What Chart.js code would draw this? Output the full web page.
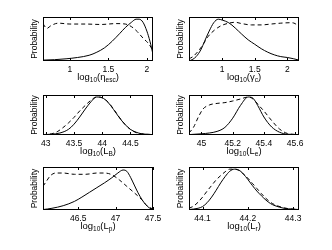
<!DOCTYPE html>
<html>
<head>
<meta charset="utf-8">
<script src="https://cdn.jsdelivr.net/npm/chart.js@4.4.1/dist/chart.umd.min.js"></script>
<style>
  html, body { margin: 0; padding: 0; background: #fff; }
  #wrap { position: relative; width: 332px; height: 250px; }
  canvas { position: absolute; }
</style>
</head>
<body>
<div id="wrap"></div>
<script>
// log10(eta_esc)
const etaTicks = [1, 1.5, 2];
const etaX = [0.65, 0.8, 0.95, 1.1, 1.25, 1.35, 1.45, 1.55, 1.65, 1.72, 1.8, 1.86, 1.9, 1.95, 2.0, 2.04, 2.08];
const etaSolid = [0.02, 0.03, 0.05, 0.08, 0.13, 0.2, 0.3, 0.45, 0.63, 0.76, 0.88, 0.95, 0.95, 0.88, 0.68, 0.45, 0.15];
const etaDashX = [0.65, 0.7, 0.75, 0.85, 1.0, 1.2, 1.4, 1.6, 1.72, 1.8, 1.88, 1.95, 2.02, 2.08];
const etaDash = [0.85, 0.74, 0.8, 0.86, 0.84, 0.84, 0.83, 0.85, 0.84, 0.78, 0.66, 0.52, 0.4, 0.24];

// log10(gamma_c)
const gamTicks = [1, 1.5, 2];
const gamX = [0.49, 0.55, 0.6, 0.67, 0.73, 0.8, 0.87, 0.94, 1.0, 1.1, 1.2, 1.3, 1.4, 1.5, 1.6, 1.7, 1.8, 1.9, 2.0, 2.1, 2.18];
const gamSolid = [0.0, 0.04, 0.1, 0.25, 0.45, 0.68, 0.87, 0.95, 0.93, 0.87, 0.75, 0.61, 0.48, 0.38, 0.28, 0.2, 0.14, 0.1, 0.08, 0.05, 0.02];
const gamDashX = [0.49, 0.55, 0.63, 0.7, 0.78, 0.88, 0.98, 1.1, 1.2, 1.3, 1.45, 1.6, 1.75, 1.9, 2.05, 2.12, 2.18];
const gamDash = [0.05, 0.1, 0.22, 0.36, 0.55, 0.7, 0.8, 0.86, 0.88, 0.85, 0.82, 0.82, 0.84, 0.86, 0.87, 0.85, 0.77];

// log10(L_B)
const lbTicks = [43, 43.5, 44, 44.5];
const lbX = [42.95, 43.1, 43.25, 43.4, 43.5, 43.6, 43.7, 43.8, 43.9, 44.0, 44.1, 44.2, 44.3, 44.4, 44.5, 44.6, 44.7, 44.9];
const lbSolid = [0.01, 0.02, 0.05, 0.14, 0.27, 0.45, 0.65, 0.83, 0.95, 0.93, 0.82, 0.64, 0.44, 0.27, 0.14, 0.07, 0.03, 0.01];
const lbDashX = [42.95, 43.1, 43.2, 43.3, 43.4, 43.5, 43.6, 43.7, 43.8, 43.9, 44.0, 44.1, 44.2, 44.3, 44.4, 44.5, 44.6, 44.7, 44.9];
const lbDash = [0.01, 0.03, 0.08, 0.18, 0.3, 0.44, 0.6, 0.74, 0.87, 0.95, 0.93, 0.83, 0.65, 0.45, 0.27, 0.14, 0.06, 0.03, 0.01];

// log10(L_e)
const leTicks = [45, 45.2, 45.4, 45.6];
const leX = [44.92, 45.0, 45.05, 45.1, 45.15, 45.2, 45.25, 45.3, 45.33, 45.36, 45.4, 45.45, 45.5, 45.55, 45.625];
const leSolid = [0.01, 0.03, 0.05, 0.09, 0.19, 0.42, 0.74, 0.95, 0.92, 0.74, 0.45, 0.2, 0.07, 0.02, 0.01];
const leDashX = [44.92, 44.95, 44.98, 45.01, 45.05, 45.1, 45.15, 45.2, 45.25, 45.3, 45.33, 45.37, 45.4, 45.45, 45.5, 45.55, 45.625];
const leDash = [0.05, 0.2, 0.45, 0.65, 0.75, 0.79, 0.81, 0.85, 0.9, 0.95, 0.9, 0.73, 0.6, 0.36, 0.15, 0.04, 0.01];

// log10(L_p)
const lpTicks = [46.5, 47, 47.5];
const lpX = [46.03, 46.15, 46.3, 46.45, 46.55, 46.65, 46.75, 46.85, 46.95, 47.03, 47.1, 47.15, 47.2, 47.25, 47.3, 47.35, 47.4, 47.45, 47.5];
const lpSolid = [0.01, 0.04, 0.1, 0.2, 0.3, 0.41, 0.52, 0.63, 0.75, 0.86, 0.93, 0.9, 0.76, 0.58, 0.4, 0.25, 0.13, 0.05, 0.01];
const lpDashX = [46.03, 46.08, 46.13, 46.2, 46.3, 46.45, 46.6, 46.75, 46.85, 46.95, 47.05, 47.15, 47.25, 47.35, 47.42, 47.5];
const lpDash = [0.55, 0.68, 0.8, 0.86, 0.86, 0.83, 0.83, 0.86, 0.86, 0.82, 0.7, 0.55, 0.4, 0.24, 0.1, 0.02];

// log10(L_r)
const lrTicks = [44.1, 44.2, 44.3];
const lrX = [44.07, 44.09, 44.1, 44.11, 44.12, 44.13, 44.14, 44.15, 44.16, 44.17, 44.18, 44.19, 44.2, 44.21, 44.22, 44.23, 44.24, 44.25, 44.26, 44.28, 44.3, 44.313];
const lrSolid = [0.01, 0.04, 0.08, 0.17, 0.3, 0.46, 0.63, 0.78, 0.9, 0.95, 0.93, 0.84, 0.71, 0.57, 0.44, 0.33, 0.23, 0.15, 0.1, 0.04, 0.02, 0.01];
const lrDashX = [44.07, 44.08, 44.09, 44.1, 44.11, 44.12, 44.13, 44.14, 44.15, 44.16, 44.17, 44.18, 44.19, 44.2, 44.21, 44.22, 44.23, 44.24, 44.25, 44.26, 44.28, 44.3, 44.313];
const lrDash = [0.04, 0.09, 0.18, 0.3, 0.44, 0.57, 0.7, 0.8, 0.89, 0.95, 0.95, 0.92, 0.84, 0.74, 0.62, 0.5, 0.38, 0.27, 0.18, 0.12, 0.05, 0.02, 0.01];

const FONT = '"Liberation Sans", Arial, sans-serif';

// col: canvas left + padding, row: canvas top/height + padding
const cols = [
  { left: 0, pl: 43, pr: 13 },
  { left: 166, pl: 23, pr: 33 }
];
const rows = [
  { top: 0, h: 83, pt: 17, pb: 2 },
  { top: 83, h: 83, pt: 12, pb: 11 },
  { top: 166, h: 84, pt: 1, pb: 20 }
];

const panels = [
  { c: 0, r: 0, min: 0.65, max: 2.08, ticks: etaTicks, title: ['log', '10', '(η', 'esc', ')'], sx: etaX, sy: etaSolid, dx: etaDashX, dy: etaDash },
  { c: 1, r: 0, min: 0.49, max: 2.18, ticks: gamTicks, title: ['log', '10', '(γ', 'c', ')'], sx: gamX, sy: gamSolid, dx: gamDashX, dy: gamDash },
  { c: 0, r: 1, min: 42.95, max: 44.9, ticks: lbTicks, title: ['log', '10', '(L', 'B', ')'], sx: lbX, sy: lbSolid, dx: lbDashX, dy: lbDash },
  { c: 1, r: 1, min: 44.92, max: 45.625, ticks: leTicks, title: ['log', '10', '(L', 'e', ')'], sx: leX, sy: leSolid, dx: leDashX, dy: leDash },
  { c: 0, r: 2, min: 46.03, max: 47.5, ticks: lpTicks, title: ['log', '10', '(L', 'p', ')'], sx: lpX, sy: lpSolid, dx: lpDashX, dy: lpDash },
  { c: 1, r: 2, min: 44.07, max: 44.313, ticks: lrTicks, title: ['log', '10', '(L', 'r', ')'], sx: lrX, sy: lrSolid, dx: lrDashX, dy: lrDash }
];

function pts(xs, ys) {
  return xs.map((x, i) => ({ x: x, y: ys[i] }));
}

// box, inward ticks, y label and subscripted x label
const decor = {
  id: 'decor',
  afterDraw(chart) {
    const ctx = chart.ctx;
    const a = chart.chartArea;
    const xs = chart.scales.x;
    ctx.save();
    ctx.strokeStyle = '#000';
    ctx.lineWidth = 1;
    ctx.strokeRect(Math.round(a.left) + 0.5, Math.round(a.top) + 0.5, Math.round(a.right - a.left) - 1, Math.round(a.bottom - a.top) - 1);
    xs.ticks.forEach(t => {
      const px = Math.round(xs.getPixelForValue(t.value)) + 0.5;
      ctx.beginPath();
      ctx.moveTo(px, a.bottom);
      ctx.lineTo(px, a.bottom - 3);
      ctx.moveTo(px, a.top);
      ctx.lineTo(px, a.top + 3);
      ctx.stroke();
    });

    ctx.fillStyle = '#000';
    ctx.font = '8.5px ' + FONT;
    ctx.textAlign = 'center';
    ctx.textBaseline = 'middle';
    ctx.translate(a.left - 8, (a.top + a.bottom) / 2);
    ctx.rotate(-Math.PI / 2);
    ctx.fillText('Probability', 0, 0);
    ctx.setTransform(1, 0, 0, 1, 0, 0);

    const parts = chart.options.plugins.decor.title;
    const big = '9.5px ' + FONT, small = '6.5px ' + FONT;
    let w = 0;
    parts.forEach((p, i) => { ctx.font = i % 2 ? small : big; w += ctx.measureText(p).width; });
    let x = (a.left + a.right) / 2 - w / 2;
    const y = a.bottom + 16.5;
    ctx.textAlign = 'left';
    ctx.textBaseline = 'middle';
    parts.forEach((p, i) => {
      ctx.font = i % 2 ? small : big;
      ctx.fillText(p, x, i % 2 ? y + 3 : y);
      x += ctx.measureText(p).width;
    });
    ctx.restore();
  }
};

const wrap = document.getElementById('wrap');
panels.forEach(p => {
  const col = cols[p.c], row = rows[p.r];
  const cv = document.createElement('canvas');
  cv.width = 166;
  cv.height = row.h;
  cv.style.left = col.left + 'px';
  cv.style.top = row.top + 'px';
  wrap.appendChild(cv);

  new Chart(cv.getContext('2d'), {
    type: 'line',
    data: {
      datasets: [
        {
          data: pts(p.sx, p.sy),
          borderColor: '#000',
          borderWidth: 1,
          pointRadius: 0,
          cubicInterpolationMode: 'monotone',
          fill: false
        },
        {
          data: pts(p.dx, p.dy),
          borderColor: '#000',
          borderWidth: 1,
          borderDash: [4, 3],
          pointRadius: 0,
          cubicInterpolationMode: 'monotone',
          fill: false
        }
      ]
    },
    options: {
      responsive: false,
      animation: false,
      devicePixelRatio: 1,
      layout: { padding: { left: col.pl, right: col.pr, top: row.pt, bottom: row.pb } },
      plugins: {
        legend: { display: false },
        tooltip: { enabled: false },
        decor: { title: p.title }
      },
      scales: {
        x: {
          type: 'linear',
          min: p.min,
          max: p.max,
          grid: { display: false, drawTicks: false },
          border: { display: false },
          ticks: {
            padding: 4,
            maxRotation: 0,
            autoSkip: false,
            color: '#000',
            font: { family: FONT, size: 8.5 },
            callback: v => String(v)
          },
          afterBuildTicks: s => { s.ticks = p.ticks.map(v => ({ value: v })); },
          afterFit: s => { s.height = 20; s.paddingLeft = 0; s.paddingRight = 0; }
        },
        y: { display: false, min: 0, max: 1 }
      }
    },
    plugins: [decor]
  });
});
</script>
</body>
</html>
